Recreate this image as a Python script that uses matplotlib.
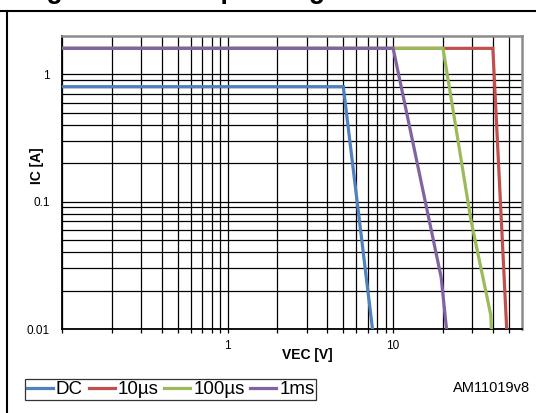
import matplotlib
matplotlib.use("Agg")
import matplotlib.pyplot as plt
from matplotlib.ticker import FixedLocator, NullFormatter, FixedFormatter
from matplotlib.lines import Line2D

plt.rcParams['font.family'] = ['Liberation Sans', 'DejaVu Sans']

# Data
series_names = ["DC", "10µs", "100µs", "1ms"]
dc_x = [0.1, 5.0, 7.5]
dc_y = [0.8, 0.8, 0.01]
us10_x = [0.1, 40.0, 48.5]
us10_y = [1.6, 1.6, 0.01]
us100_x = [0.1, 20.0, 29.5, 38.9, 39.2]
us100_y = [1.6, 1.6, 0.0715, 0.0128, 0.01]
ms1_x = [0.1, 10.0, 19.5, 21.0]
ms1_y = [1.6, 1.6, 0.0254, 0.01]
colors = ["#4F81BD", "#C0504D", "#9BBB59", "#8064A2"]

x_ticks = [1, 10]
x_ticklabels = ["1", "10"]
y_ticks = [0.01, 0.1, 1]
y_ticklabels = ["0.01", "0.1", "1"]

W, H = 536, 413
fig = plt.figure(figsize=(W / 100, H / 100), dpi=100)

L, R, B, T = 62, 522, 329, 36
ax = fig.add_axes([L / W, 1 - B / H, (R - L) / W, (B - T) / H])
ax.set_xscale('log')
ax.set_yscale('log')
ax.set_xlim(0.1, 60)
ax.set_ylim(0.01, 2)

# grid
minor_x = [m * 10.0 ** e for e in (-1, 0, 1) for m in range(2, 10) if m * 10.0 ** e < 60]
major_x = [0.1, 1, 10]
minor_y = [m * 10.0 ** e for e in (-2, -1, 0) for m in range(2, 10) if m * 10.0 ** e < 2]
for xv in major_x + minor_x:
    ax.axvline(xv, color='black', lw=0.9, zorder=1)
for yv in [0.01, 0.1, 1] + minor_y:
    ax.axhline(yv, color='black', lw=0.9, zorder=1)

allx = [dc_x, us10_x, us100_x, ms1_x]
ally = [dc_y, us10_y, us100_y, ms1_y]
handles = []
for xs, ys, c, n in zip(allx, ally, colors, series_names):
    h, = ax.plot(xs, ys, color=c, lw=2.3, solid_joinstyle='miter', zorder=3, label=n)
    handles.append(h)

ax.xaxis.set_major_locator(FixedLocator(x_ticks))
ax.xaxis.set_major_formatter(FixedFormatter(x_ticklabels))
ax.xaxis.set_minor_locator(FixedLocator([0.1] + minor_x))
ax.xaxis.set_minor_formatter(NullFormatter())
ax.yaxis.set_major_locator(FixedLocator(y_ticks))
ax.yaxis.set_major_formatter(FixedFormatter(y_ticklabels))
ax.yaxis.set_minor_locator(FixedLocator(minor_y))
ax.yaxis.set_minor_formatter(NullFormatter())
ax.tick_params(axis='x', which='both', direction='out', length=3, width=0.9, color='black',
               labelsize=8.5, pad=5)
ax.tick_params(axis='y', which='both', length=0, labelsize=8.5, pad=9)

for s in ('left', 'bottom'):
    ax.spines[s].set_color('black')
    ax.spines[s].set_linewidth(1.3)
for s in ('top', 'right'):
    ax.spines[s].set_color('#8c8c8c')
    ax.spines[s].set_linewidth(1.8)

ax.set_xlabel("VEC [V]", fontsize=10, fontweight='bold')
ax.xaxis.set_label_coords((307 - L) / (R - L), -(355 - B) / (B - T))
ax.xaxis.label.set_va('center')
ax.set_ylabel("IC [A]", fontsize=10, fontweight='bold')
ax.yaxis.set_label_coords((37 - L) / (R - L), (B - 166) / (B - T))
ax.yaxis.label.set_va('center')

leg = fig.legend(handles=handles, labels=series_names, loc='lower left',
                 bbox_to_anchor=(25 / W, 1 - 400 / H), ncol=4, fontsize=13.5,
                 handlelength=1.4, handletextpad=0.15, columnspacing=0.3,
                 borderpad=0.1, borderaxespad=0, frameon=True, fancybox=False)
leg.get_frame().set_edgecolor('black')
leg.get_frame().set_linewidth(0.9)

fig.text(530 / W, 1 - 388 / H, "AM11019v8", fontsize=10.5, ha='right', va='center')

# frame lines of the figure block
fig.add_artist(Line2D([0, 1], [1 - 11 / H, 1 - 11 / H], color='black', lw=1.5,
                      transform=fig.transFigure))
fig.add_artist(Line2D([7 / W, 7 / W], [0, 1 - 11 / H], color='black', lw=1.5,
                      transform=fig.transFigure))

# caption, cropped at the top edge as in the reference (only descenders visible)
fig.text(23 / W, 1 + 2.5 / H, "Figure 8. Safe operating area", fontsize=19.1,
         fontweight='bold', ha='left', va='baseline')

fig.savefig("out.png", dpi=100)
